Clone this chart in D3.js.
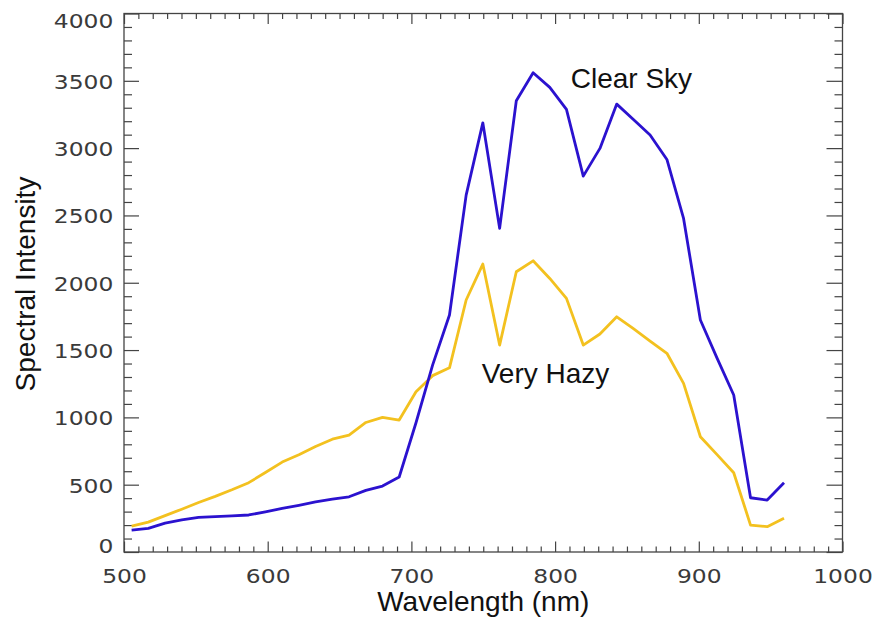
<!DOCTYPE html>
<html>
<head>
<meta charset="utf-8">
<script src="https://cdn.jsdelivr.net/npm/d3@7"></script>
<style>
  html, body { margin: 0; padding: 0; background: #fff; }
  svg { display: block; }
</style>
</head>
<body>
<svg id="chart" width="876" height="619"></svg>
<script>
// ---- data ----
const wavelengths = [505.3, 516.9, 528.6, 540.2, 551.9, 563.5, 575.1, 586.8, 598.4, 610.1,
                     621.7, 633.3, 645.0, 656.6, 668.3, 679.9, 691.5, 703.2, 714.8, 726.5,
                     738.1, 749.7, 761.4, 773.0, 784.7, 796.3, 807.9, 819.6, 831.2, 842.9,
                     854.5, 866.1, 877.8, 889.4, 901.1, 912.7, 924.3, 936.0, 947.6, 959.3];
const clearSky = [163, 175, 215, 238, 257, 263, 268, 275, 298, 324,
                  347, 372, 392, 410, 458, 490, 557, 960, 1390, 1760,
                  2651, 3188, 2404, 3352, 3560, 3451, 3288, 2792, 2998, 3327,
                  3212, 3097, 2916, 2478, 1723, 1440, 1166, 403, 386, 515];
const veryHazy = [193, 222, 270, 318, 368, 413, 462, 515, 590, 668,
                  722, 784, 838, 868, 962, 1000, 980, 1190, 1310, 1368,
                  1872, 2139, 1537, 2082, 2163, 2032, 1884, 1537, 1619, 1747,
                  1659, 1567, 1476, 1253, 856, 723, 589, 200, 188, 250];
const xTickValues = [500, 600, 700, 800, 900, 1000];
const yTickValues = [0, 500, 1000, 1500, 2000, 2500, 3000, 3500, 4000];
const seriesNames = ["Clear Sky", "Very Hazy"];
const xTitle = "Wavelength (nm)";
const yTitle = "Spectral Intensity";

// ---- layout ----
const svg = d3.select("#chart");
const L = 124, R = 842.5, T = 13.5, B = 552;
const x = d3.scaleLinear().domain([500, 1000]).range([L, R]);
const y = d3.scaleLinear().domain([0, 4000]).range([B, T]);
const axisColor = "#444";
const xMinor = d3.range(510, 1000, 10).filter(v => v % 100 !== 0);
const yMinor = d3.range(100, 4000, 100).filter(v => v % 500 !== 0);

function styleAxis(g) {
  g.select(".domain").remove();
  g.selectAll(".tick line").attr("stroke", axisColor).attr("stroke-width", 1.2);
}

// minor ticks
svg.append("g").attr("transform", `translate(0,${B})`)
  .call(d3.axisBottom(x).tickValues(xMinor).tickSize(-5.5).tickSizeOuter(0).tickFormat(""))
  .call(styleAxis);
svg.append("g").attr("transform", `translate(0,${T})`)
  .call(d3.axisTop(x).tickValues(xMinor).tickSize(-5.5).tickSizeOuter(0).tickFormat(""))
  .call(styleAxis);
svg.append("g").attr("transform", `translate(${L},0)`)
  .call(d3.axisLeft(y).tickValues(yMinor).tickSize(-8).tickSizeOuter(0).tickFormat(""))
  .call(styleAxis);
svg.append("g").attr("transform", `translate(${R},0)`)
  .call(d3.axisRight(y).tickValues(yMinor).tickSize(-8).tickSizeOuter(0).tickFormat(""))
  .call(styleAxis);

// major ticks
const gx = svg.append("g").attr("transform", `translate(0,${B})`)
  .call(d3.axisBottom(x).tickValues(xTickValues).tickSize(-10.5).tickSizeOuter(0).tickFormat(d3.format("d")))
  .call(styleAxis);
svg.append("g").attr("transform", `translate(0,${T})`)
  .call(d3.axisTop(x).tickValues(xTickValues).tickSize(-10.5).tickSizeOuter(0).tickFormat(""))
  .call(styleAxis);
const gy = svg.append("g").attr("transform", `translate(${L},0)`)
  .call(d3.axisLeft(y).tickValues(yTickValues).tickSize(-15).tickSizeOuter(0).tickFormat(d3.format("d")))
  .call(styleAxis);
svg.append("g").attr("transform", `translate(${R},0)`)
  .call(d3.axisRight(y).tickValues(yTickValues).tickSize(-16).tickSizeOuter(0).tickFormat(""))
  .call(styleAxis);

// tick label styling
function styleLabels(sel) {
  sel.attr("font-family", "'DejaVu Sans', sans-serif")
     .attr("font-size", 20)
     .attr("fill", "#3a3a3a")
     .each(function () {
       const w = this.getComputedTextLength();
       d3.select(this).attr("textLength", w * 1.17).attr("lengthAdjust", "spacingAndGlyphs");
     });
}
gx.selectAll(".tick text")
  .attr("y", 31).attr("dy", null)
  .call(styleLabels);
gy.selectAll(".tick text")
  .attr("x", -10.7)
  .attr("dy", d => d === 0 ? "0px" : (d === 4000 ? "14px" : "7.3px"))
  .call(styleLabels);

// frame
svg.append("rect")
  .attr("x", L).attr("y", T).attr("width", R - L).attr("height", B - T)
  .attr("fill", "none").attr("stroke", axisColor).attr("stroke-width", 1.3);

// lines
const line = vals => d3.line()
  .x((d, i) => x(wavelengths[i]))
  .y(d => y(d))(vals);

svg.append("path").attr("d", line(veryHazy))
  .attr("fill", "none").attr("stroke", "#f3c11f").attr("stroke-width", 2.8)
  .attr("stroke-linejoin", "round");
svg.append("path").attr("d", line(clearSky))
  .attr("fill", "none").attr("stroke", "#2b12cf").attr("stroke-width", 2.8)
  .attr("stroke-linejoin", "round");

// series labels
const labelFont = "'Liberation Sans', Arial, sans-serif";
svg.append("text").attr("x", 570.7).attr("y", 88.3)
  .attr("font-family", labelFont).attr("font-size", 28).attr("fill", "#111")
  .text(seriesNames[0]);
svg.append("text").attr("x", 481.7).attr("y", 382.7)
  .attr("font-family", labelFont).attr("font-size", 28).attr("fill", "#111")
  .text(seriesNames[1]);

// axis titles
svg.append("text").attr("x", (L + R) / 2).attr("y", 611)
  .attr("text-anchor", "middle")
  .attr("font-family", labelFont).attr("font-size", 28).attr("fill", "#111")
  .text(xTitle);
svg.append("text").attr("transform", "translate(35,284) rotate(-90)")
  .attr("text-anchor", "middle")
  .attr("font-family", labelFont).attr("font-size", 28).attr("fill", "#111")
  .text(yTitle);
</script>
</body>
</html>
